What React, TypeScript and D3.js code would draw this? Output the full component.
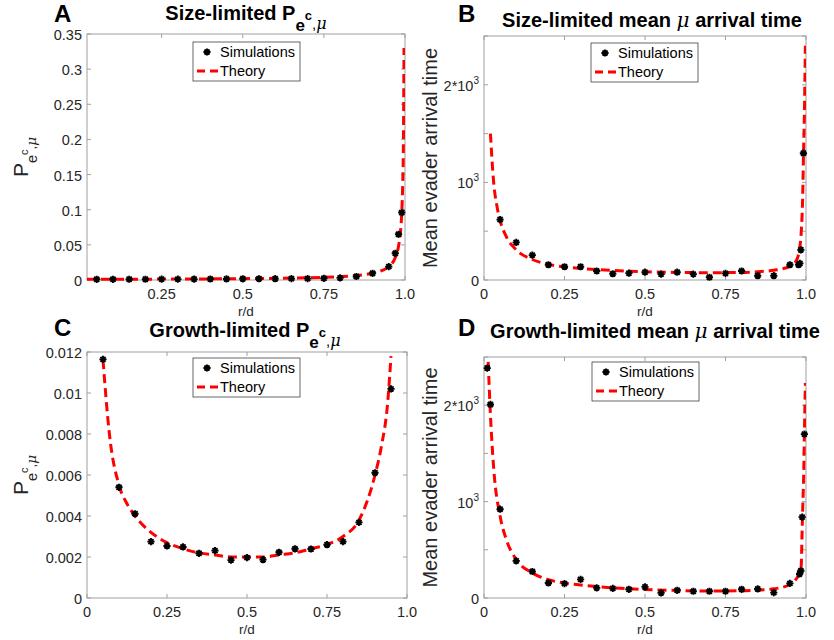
import React from "react";
import * as d3 from "d3";

// ---------------- DATA ----------------
// Panel A: size-limited P
const simAx = [0.05, 0.1, 0.15, 0.2, 0.25, 0.3, 0.35, 0.4, 0.45, 0.5, 0.55, 0.6, 0.65, 0.7, 0.75, 0.8, 0.85, 0.9, 0.95, 0.97, 0.98, 0.99];
const simAy = [0.001, 0.001, 0.0011, 0.0011, 0.0012, 0.0012, 0.0013, 0.0014, 0.0015, 0.0017, 0.0018, 0.0019, 0.002, 0.002, 0.0024, 0.003, 0.005, 0.0095, 0.019, 0.038, 0.065, 0.096];
const thAx = [0.02, 0.1, 0.2, 0.3, 0.4, 0.5, 0.6, 0.7, 0.8, 0.85, 0.9, 0.93, 0.95, 0.97, 0.98, 0.985, 0.99, 0.993, 0.995, 0.997];
const thAy = [0.001, 0.0011, 0.0012, 0.0014, 0.0016, 0.0019, 0.0024, 0.0032, 0.0048, 0.0064, 0.0096, 0.0137, 0.019, 0.032, 0.048, 0.064, 0.096, 0.137, 0.19, 0.33];

// Panel B: size-limited mean arrival time
const simBx = [0.05, 0.1, 0.15, 0.2, 0.25, 0.3, 0.35, 0.4, 0.45, 0.5, 0.55, 0.6, 0.65, 0.7, 0.75, 0.8, 0.85, 0.9, 0.95, 0.977, 0.981, 0.984, 0.992];
const simBy = [619, 385, 255, 156, 136, 136, 92, 64, 70, 80, 60, 80, 60, 28, 68, 92, 44, 44, 156, 156, 170, 309, 1299];
const thBx = [0.02, 0.03, 0.04, 0.05, 0.07, 0.1, 0.15, 0.2, 0.25, 0.3, 0.4, 0.5, 0.6, 0.7, 0.8, 0.85, 0.9, 0.95, 0.97, 0.975, 0.98, 0.985, 0.99, 0.992, 0.995, 0.998];
const thBy = [1500, 1000, 760, 610, 440, 310, 210, 160, 135, 118, 98, 85, 78, 75, 78, 85, 100, 140, 200, 240, 320, 480, 900, 1250, 1700, 2400];

// Panel C: growth-limited P
const simCx = [0.05, 0.1, 0.15, 0.2, 0.25, 0.3, 0.35, 0.4, 0.45, 0.5, 0.55, 0.6, 0.65, 0.7, 0.75, 0.8, 0.85, 0.9, 0.95];
const simCy = [0.01164, 0.0054, 0.00411, 0.00275, 0.00254, 0.00249, 0.00218, 0.00231, 0.00185, 0.00197, 0.00187, 0.00223, 0.0024, 0.00239, 0.0026, 0.00275, 0.00369, 0.00611, 0.0102];
const thCx = [0.05, 0.07, 0.1, 0.125, 0.15, 0.2, 0.25, 0.3, 0.35, 0.4, 0.45, 0.5, 0.55, 0.6, 0.65, 0.7, 0.75, 0.8, 0.85, 0.9, 0.92, 0.94, 0.95];
const thCy = [0.0116, 0.008, 0.0055, 0.0046, 0.004, 0.0032, 0.0027, 0.0024, 0.0022, 0.0021, 0.002, 0.002, 0.002, 0.0021, 0.0022, 0.0024, 0.0026, 0.003, 0.0038, 0.006, 0.0074, 0.0096, 0.0118];

// Panel D: growth-limited mean arrival time
const simDx = [0.01, 0.02, 0.05, 0.1, 0.15, 0.2, 0.25, 0.3, 0.35, 0.4, 0.45, 0.5, 0.55, 0.6, 0.65, 0.7, 0.75, 0.8, 0.85, 0.9, 0.95, 0.98, 0.984, 0.988, 0.995];
const simDy = [2385, 2008, 921, 385, 275, 156, 149, 193, 105, 100, 90, 115, 53, 80, 70, 70, 70, 90, 94, 56, 152, 249, 282, 839, 1700];
const thDx = [0.013, 0.02, 0.03, 0.05, 0.07, 0.1, 0.15, 0.2, 0.25, 0.3, 0.4, 0.5, 0.6, 0.7, 0.8, 0.85, 0.9, 0.95, 0.97, 0.98, 0.985, 0.988, 0.99, 0.993, 0.995, 0.998];
const thDy = [2450, 1900, 1350, 850, 600, 400, 260, 190, 155, 135, 105, 88, 78, 72, 75, 82, 95, 140, 200, 260, 330, 700, 950, 1300, 1700, 2230];

// Tick values / labels
const xTicksA = [0.25, 0.5, 0.75, 1.0];
const xTickLabelsA = ["0.25", "0.5", "0.75", "1.0"];
const xTicksFull = [0, 0.25, 0.5, 0.75, 1.0];
const xTickLabelsFull = ["0", "0.25", "0.5", "0.75", "1.0"];
const yTicksA = [0, 0.05, 0.1, 0.15, 0.2, 0.25, 0.3, 0.35];
const yTickLabelsA = ["0", "0.05", "0.1", "0.15", "0.2", "0.25", "0.3", "0.35"];
const yTicksC = [0, 0.002, 0.004, 0.006, 0.008, 0.01, 0.012];
const yTickLabelsC = ["0", "0.002", "0.004", "0.006", "0.008", "0.01", "0.012"];
const yTicksTime = [0, 500, 1000, 1500, 2000, 2500];
const yTickLabelsTime = ["0", "", "10^3", "", "2*10^3", ""];

const legendLabels = ["Simulations", "Theory"];

// ---------------- STYLE ----------------
const FONT = "'Liberation Sans', Arial, Helvetica, sans-serif";
const AXIS = "#a0a0a0";
const TXT = "#262626";
const RED = "#ff0000";

function asteriskPath(r: number) {
  const d = r * Math.SQRT1_2;
  return `M${-r},0L${r},0M0,${-r}L0,${r}M${-d},${-d}L${d},${d}M${-d},${d}L${d},${-d}`;
}

function TickLabel({ label }: { label: string }) {
  if (label.includes("^")) {
    const [base, sup] = label.split("^");
    return (
      <>
        {base}
        <tspan fontSize={10} dy={-7}>{sup}</tspan>
      </>
    );
  }
  return <>{label}</>;
}

function PSub({ size }: { size: number }) {
  const s = size;
  return (
    <>
      <tspan fontSize={s * 0.85} dy={s * 0.55}>e</tspan>
      <tspan fontSize={s * 0.65} dy={-s * 0.55}>c</tspan>
      <tspan fontSize={s * 0.75} dy={s * 0.45} fontWeight="normal">,</tspan>
      <tspan fontSize={s * 0.8} fontFamily="'DejaVu Serif', 'Liberation Serif', serif" fontStyle="italic" fontWeight="normal">μ</tspan>
    </>
  );
}

type PanelProps = {
  id: string;
  left: number; right: number; top: number; bottom: number;
  xDomain: [number, number]; yDomain: [number, number];
  xTicks: number[]; xTickLabels: string[];
  yTicks: number[]; yTickLabels: string[];
  simX: number[]; simY: number[];
  thX: number[]; thY: number[];
  letter: string; letterX: number; letterY: number;
  title: React.ReactNode; titleX: number; titleY: number;
  yLabel: React.ReactNode; yLabelX: number;
  legendX: number; legendY: number;
};

function Panel(p: PanelProps) {
  const x = d3.scaleLinear().domain(p.xDomain).range([p.left, p.right]);
  const y = d3.scaleLinear().domain(p.yDomain).range([p.bottom, p.top]);
  const pts = p.thX.map((v, i) => [v, p.thY[i]] as [number, number]);
  const line = d3.line<[number, number]>().x(d => x(d[0])).y(d => y(d[1])).curve(d3.curveMonotoneX);
  const tl = 4;
  const midY = (p.top + p.bottom) / 2;
  const midX = (p.left + p.right) / 2;
  return (
    <g>
      <defs>
        <clipPath id={`clip-${p.id}`}>
          <rect x={p.left} y={p.top - 1} width={p.right - p.left} height={p.bottom - p.top + 2} />
        </clipPath>
      </defs>
      {p.xTicks.map((t, i) => (
        <g key={`xt${i}`}>
          <line x1={x(t)} x2={x(t)} y1={p.bottom} y2={p.bottom - tl} stroke={AXIS} />
          <line x1={x(t)} x2={x(t)} y1={p.top} y2={p.top + tl} stroke={AXIS} />
          <text x={x(t)} y={p.bottom + 19} textAnchor="middle" fontSize={14.5} fill={TXT} fontFamily={FONT}>
            {p.xTickLabels[i]}
          </text>
        </g>
      ))}
      {p.yTicks.map((t, i) => (
        <g key={`yt${i}`}>
          <line x1={p.left} x2={p.left + tl} y1={y(t)} y2={y(t)} stroke={AXIS} />
          <line x1={p.right} x2={p.right - tl} y1={y(t)} y2={y(t)} stroke={AXIS} />
          <text x={p.left - 5} y={y(t) + 6} textAnchor="end" fontSize={14.5} fill={TXT} fontFamily={FONT}>
            <TickLabel label={p.yTickLabels[i]} />
          </text>
        </g>
      ))}
      <rect x={p.left} y={p.top} width={p.right - p.left} height={p.bottom - p.top} fill="none" stroke={AXIS} strokeWidth={1} />
      <path d={line(pts) || ""} fill="none" stroke={RED} strokeWidth={3} strokeDasharray="9,5" clipPath={`url(#clip-${p.id})`} />
      {p.simX.map((v, i) => (
        <path key={`s${i}`} d={asteriskPath(3.6)} transform={`translate(${x(v)},${y(p.simY[i])})`} stroke="#000" strokeWidth={1.9} fill="none" />
      ))}
      <g transform={`translate(${p.legendX},${p.legendY})`}>
        <rect x={0} y={0} width={107} height={39} fill="#fff" stroke={TXT} strokeWidth={0.7} />
        <path d={asteriskPath(3.6)} transform="translate(14,10)" stroke="#000" strokeWidth={1.9} fill="none" />
        <text x={27} y={15} fontSize={14.5} fill="#000" fontFamily={FONT}>{legendLabels[0]}</text>
        <line x1={4} x2={25} y1={29} y2={29} stroke={RED} strokeWidth={3} strokeDasharray="8,5" />
        <text x={27} y={34} fontSize={14.5} fill="#000" fontFamily={FONT}>{legendLabels[1]}</text>
      </g>
      <text x={midX} y={p.bottom + 36} textAnchor="middle" fontSize={13.5} fill={TXT} fontFamily={FONT}>r/d</text>
      <text x={p.yLabelX} y={midY} textAnchor="middle" transform={`rotate(-90,${p.yLabelX},${midY})`} fill={TXT} fontFamily={FONT}>
        {p.yLabel}
      </text>
      <text x={p.titleX} y={p.titleY} textAnchor="middle" fontSize={20} fontWeight="bold" fill="#000" fontFamily={FONT}>
        {p.title}
      </text>
      <text x={p.letterX} y={p.letterY} fontSize={24} fontWeight="bold" fill="#000" fontFamily={FONT}>{p.letter}</text>
    </g>
  );
}

const muSpan = (
  <tspan fontFamily="'DejaVu Serif', 'Liberation Serif', serif" fontStyle="italic" fontWeight="normal">μ</tspan>
);

export default function App() {
  const pLabel = (
    <tspan fontSize={21}>
      P<PSub size={17} />
    </tspan>
  );
  const timeLabel = <tspan fontSize={20}>Mean evader arrival time</tspan>;
  return (
    <svg width={834} height={640} style={{ position: "absolute", left: 0, top: 0, background: "#fff" }}>
      <rect width={834} height={640} fill="#fff" />
      <Panel
        id="A" left={87} right={405} top={34} bottom={280}
        xDomain={[0.02, 1]} yDomain={[0, 0.35]}
        xTicks={xTicksA} xTickLabels={xTickLabelsA}
        yTicks={yTicksA} yTickLabels={yTickLabelsA}
        simX={simAx} simY={simAy} thX={thAx} thY={thAy}
        letter="A" letterX={54} letterY={21.5}
        title={<>Size-limited P<PSub size={20} /></>} titleX={246} titleY={20}
        yLabel={pLabel} yLabelX={28}
        legendX={193} legendY={42}
      />
      <Panel
        id="B" left={484} right={806} top={36} bottom={280}
        xDomain={[0, 1]} yDomain={[0, 2500]}
        xTicks={xTicksFull} xTickLabels={xTickLabelsFull}
        yTicks={yTicksTime} yTickLabels={yTickLabelsTime}
        simX={simBx} simY={simBy} thX={thBx} thY={thBy}
        letter="B" letterX={458} letterY={22}
        title={<>Size-limited mean {muSpan} arrival time</>} titleX={652} titleY={27}
        yLabel={timeLabel} yLabelX={437}
        legendX={591} legendY={43}
      />
      <Panel
        id="C" left={87} right={407} top={352} bottom={598}
        xDomain={[0, 1]} yDomain={[0, 0.012]}
        xTicks={xTicksFull} xTickLabels={xTickLabelsFull}
        yTicks={yTicksC} yTickLabels={yTickLabelsC}
        simX={simCx} simY={simCy} thX={thCx} thY={thCy}
        letter="C" letterX={54} letterY={336}
        title={<>Growth-limited P<PSub size={20} /></>} titleX={245} titleY={337}
        yLabel={pLabel} yLabelX={28}
        legendX={193} legendY={358}
      />
      <Panel
        id="D" left={484} right={806} top={357} bottom={598}
        xDomain={[0, 1]} yDomain={[0, 2500]}
        xTicks={xTicksFull} xTickLabels={xTickLabelsFull}
        yTicks={yTicksTime} yTickLabels={yTickLabelsTime}
        simX={simDx} simY={simDy} thX={thDx} thY={thDy}
        letter="D" letterX={458} letterY={336}
        title={<>Growth-limited mean {muSpan} arrival time</>} titleX={655} titleY={338}
        yLabel={timeLabel} yLabelX={437}
        legendX={592} legendY={362}
      />
    </svg>
  );
}
